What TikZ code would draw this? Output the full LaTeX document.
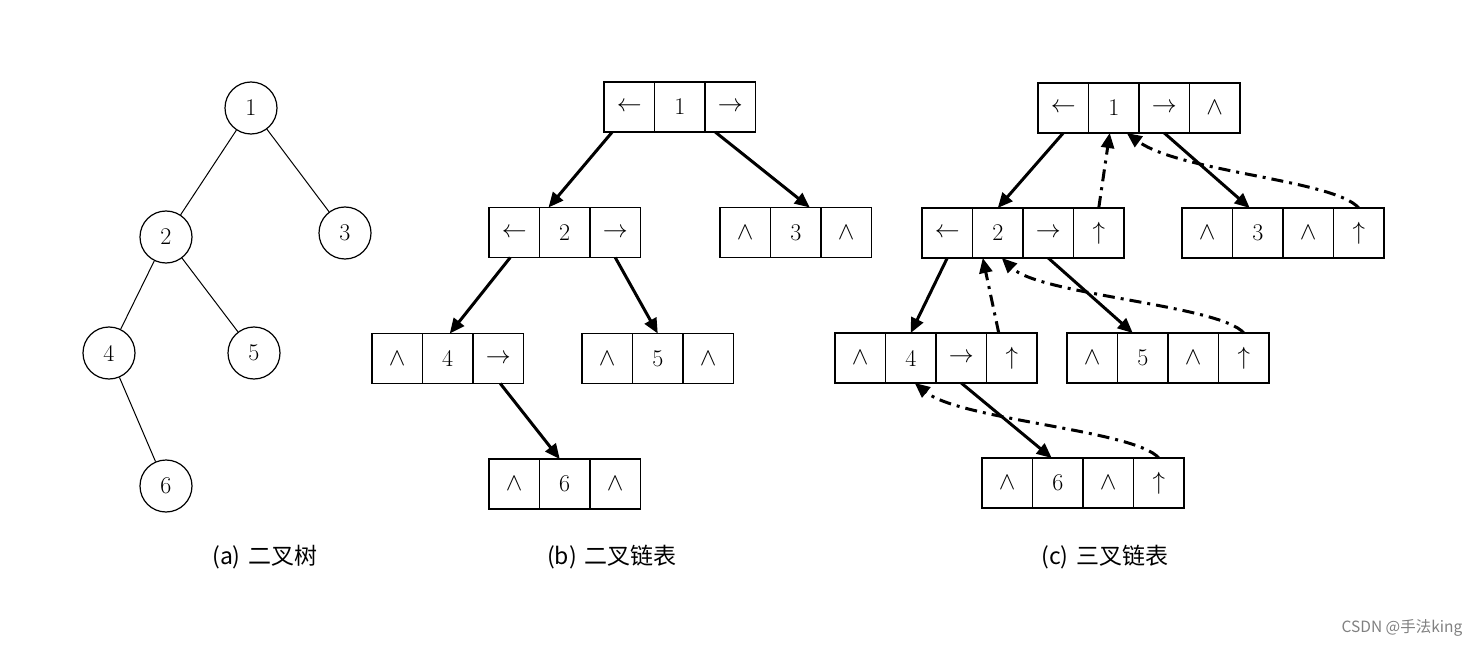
\documentclass[tikz,border=0pt]{standalone}
\usepackage{fontspec}
\usepackage{tikz}
\usetikzlibrary{arrows.meta,positioning}
\newfontfamily\cjk{Noto Sans CJK SC}
\newcommand{\nilp}{{\fontsize{30}{30}\selectfont$\wedge$}}
% one row of linked cells: name, left x, centre y, cell texts
\newcommand{\linkcells}[4]{%
  \foreach \txt [count=\k] in {#4}
    \node[cell] (#1-\k) at ({#2+(\k-0.5)*50.5},#3) {\txt};}

\begin{document}
\begin{tikzpicture}[
      x=1pt, y=-1pt,
      tnode/.style={draw, circle, line width=1.2pt, minimum size=52pt,
                    inner sep=0pt, font=\fontsize{24}{26}\selectfont},
      tedge/.style={line width=1pt},
      cell/.style={draw, line width=1.4pt, minimum width=50.5pt,
                   minimum height=50pt, inner sep=0pt, outer sep=0pt,
                   font=\fontsize{24}{26}\selectfont},
      downarr/.style={-{Triangle[length=15pt,width=13pt]}, line width=3pt},
      uparr/.style={-{Triangle[length=15pt,width=13pt]}, line width=3pt,
                    dash pattern=on 12pt off 6pt on 3pt off 6pt},
      subcap/.style={font=\cjk\fontsize{23}{26}\selectfont},
    ]
    \useasboundingbox (0,0) rectangle (1478,647);

    % (a) binary tree
    \node[tnode] (t1) at (251,108) {1};
    \node[tnode] (t2) at (166,237) {2};
    \node[tnode] (t3) at (345,233) {3};
    \node[tnode] (t4) at (109,353) {4};
    \node[tnode] (t5) at (254,353) {5};
    \node[tnode] (t6) at (166,486) {6};
    \draw[tedge] (t1) -- (t2);
    \draw[tedge] (t1) -- (t3);
    \draw[tedge] (t2) -- (t4);
    \draw[tedge] (t2) -- (t5);
    \draw[tedge] (t4) -- (t6);

    % (b) binary linked list
    \linkcells{b1}{604}{107}{$\leftarrow$,1,$\rightarrow$}
    \linkcells{b2}{489}{232.5}{$\leftarrow$,2,$\rightarrow$}
    \linkcells{b3}{720}{232.5}{\nilp,3,\nilp}
    \linkcells{b4}{372}{358.5}{\nilp,4,$\rightarrow$}
    \linkcells{b5}{582}{358.5}{\nilp,5,\nilp}
    \linkcells{b6}{489}{484}{\nilp,6,\nilp}
    \draw[downarr] ([xshift=-17pt]b1-1.south) -- ([xshift=9pt]b2-2.north west);
    \draw[downarr] ([xshift=-15pt]b1-3.south) -- ([xshift=14pt]b3-2.north);
    \draw[downarr] ([xshift=-4pt]b2-1.south) -- ([xshift=2pt]b4-2.north);
    \draw[downarr] (b2-3.south) -- (b5-2.north);
    \draw[downarr] ([xshift=2pt]b4-3.south) -- ([xshift=-5pt]b6-2.north);

    % (c) trinary linked list
    \linkcells{c1}{1038}{108}{$\leftarrow$,1,$\rightarrow$,\nilp}
    \linkcells{c2}{922}{233}{$\leftarrow$,2,$\rightarrow$,$\uparrow$}
    \linkcells{c3}{1182}{233}{\nilp,3,\nilp,$\uparrow$}
    \linkcells{c4}{835}{358}{\nilp,4,$\rightarrow$,$\uparrow$}
    \linkcells{c5}{1067}{358}{\nilp,5,\nilp,$\uparrow$}
    \linkcells{c6}{982}{483}{\nilp,6,\nilp,$\uparrow$}
    \draw[downarr] (c1-1.south) -- (c2-2.north);
    \draw[downarr] (c1-3.south) -- ([xshift=-8pt]c3-2.north);
    \draw[downarr] (c2-1.south) -- (c4-2.north);
    \draw[downarr] (c2-3.south) -- ([xshift=-10pt]c5-2.north);
    \draw[downarr] (c4-3.south) -- ([xshift=-6pt]c6-2.north);
    \draw[uparr] (c2-4.north) -- ([xshift=-4pt]c1-2.south);
    \draw[uparr] (c3-4.north) .. controls (1335,180) and (1180,172)
      .. ([xshift=13pt]c1-2.south);
    \draw[uparr] ([xshift=-13pt]c4-4.north) -- ([xshift=-15pt]c2-2.south);
    \draw[uparr] (c5-4.north) .. controls (1220,305) and (1040,295)
      .. ([xshift=4pt]c2-2.south);
    \draw[uparr] (c6-4.north) .. controls (1135,430) and (960,420)
      .. ([xshift=4pt]c4-2.south);

    % captions
    \node[subcap] (capa) at (265,557) {(a)\hspace{8pt}二叉树};
    \node[subcap] (capb) at (612,557) {(b)\hspace{8pt}二叉链表};
    \node[subcap] (capc) at (1105,557) {(c)\hspace{8pt}三叉链表};
    \node[font=\cjk\fontsize{15.5}{18}\selectfont, text=gray] (mark)
      at (1402,628) {CSDN @手法king};
  \end{tikzpicture}
\end{document}
